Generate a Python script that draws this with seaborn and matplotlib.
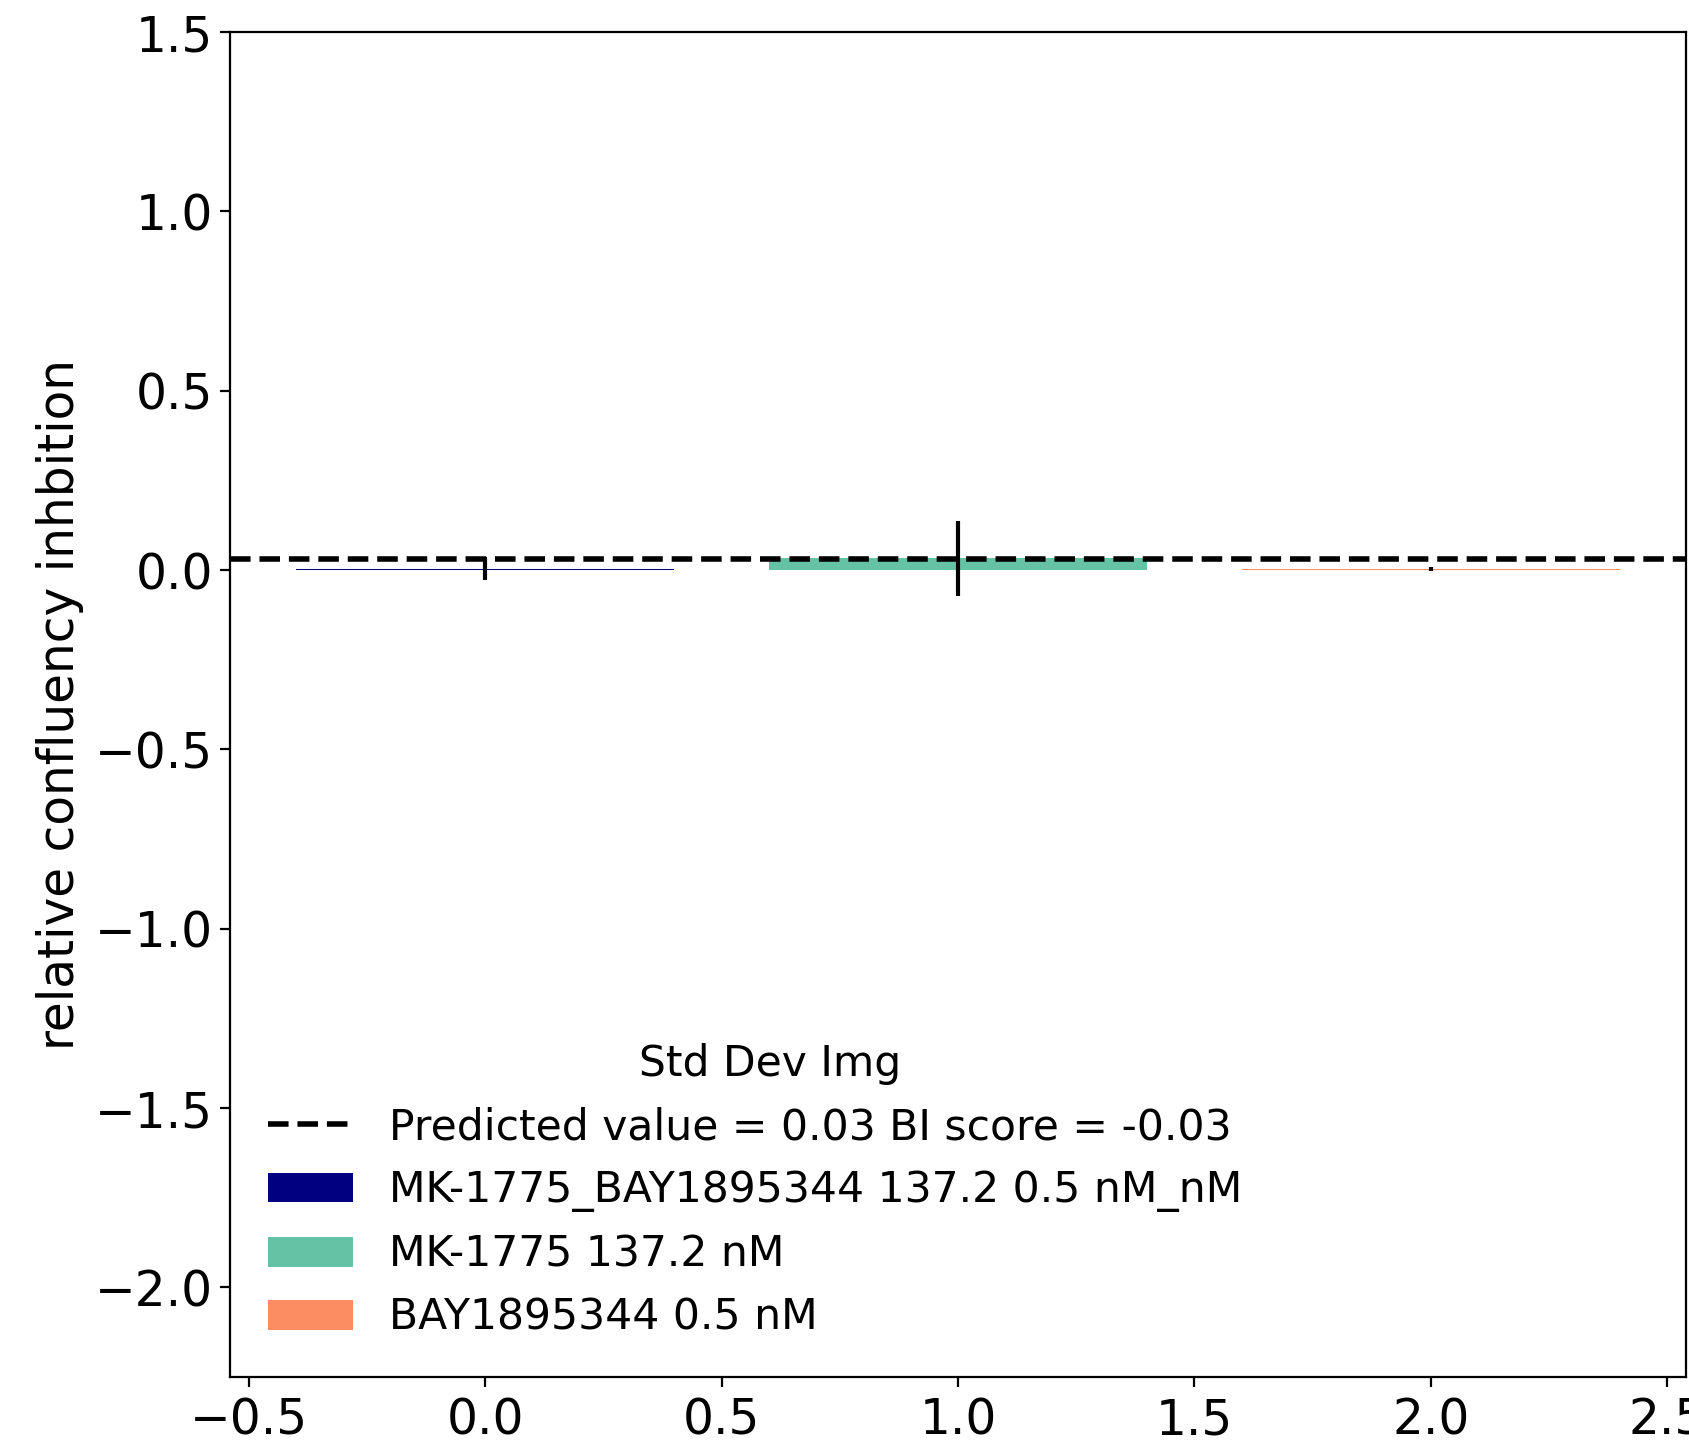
import numpy as np
import pandas as pd
import matplotlib
matplotlib.use("Agg")
import matplotlib.pyplot as plt
import seaborn as sns

### Data
labels = ["MK-1775_BAY1895344 137.2 0.5 nM_nM", "MK-1775 137.2 nM", "BAY1895344 0.5 nM"]
positions = [0, 1, 2]
means = [0.004, 0.033, 0.003]
errors = [0.032, 0.105, 0.006]
colors = ["#000080", "#66c2a5", "#fc8d62"]
predicted = 0.03
bi_score = -0.03
legend_title = "Std Dev Img"
ylabel = "relative confluency inhbition"

df = pd.DataFrame({"pos": positions, "value": means, "err": errors, "condition": labels})

fig = plt.figure(figsize=(1689 / 200, 1452 / 200), dpi=200)
ax = fig.add_axes([230 / 1689, 1 - 1377 / 1452, (1686 - 230) / 1689, (1377 - 32) / 1452])

sns.barplot(data=df, x="pos", y="value", hue="condition", hue_order=labels, palette=colors,
            native_scale=True, dodge=False, errorbar=None, saturation=1, linewidth=0, ax=ax)
ax.errorbar(df["pos"], df["value"], yerr=df["err"], fmt="none", ecolor="black", elinewidth=1.5)

pred_line = ax.axhline(predicted, color="black", linestyle="--", linewidth=2)

# rebuild legend with the predicted line first
leg = ax.get_legend()
bar_handles = leg.legend_handles
bar_labels = [t.get_text() for t in leg.get_texts()]
leg.remove()
leg = ax.legend([pred_line] + bar_handles,
                [f"Predicted value = {predicted:.2f} BI score = {bi_score:.2f}"] + bar_labels,
                title=legend_title, loc="lower left", frameon=False, fontsize=15.3,
                title_fontsize=15.3, handletextpad=0.85)
# title sits a little right of centre in the original
leg.get_title().set_position((15, 0))

ax.set_xlim(-0.54, 2.54)
ax.set_ylim(-2.25, 1.5)
ax.set_xticks(np.arange(-0.5, 2.51, 0.5))
ax.set_yticks(np.arange(-2.0, 1.51, 0.5))
ax.set_xlabel("")
ax.set_ylabel(ylabel, fontsize=17.5)
ax.tick_params(labelsize=17.5)
ax.tick_params(axis="y", pad=2.5)

fig.savefig("out.png", dpi=200)
